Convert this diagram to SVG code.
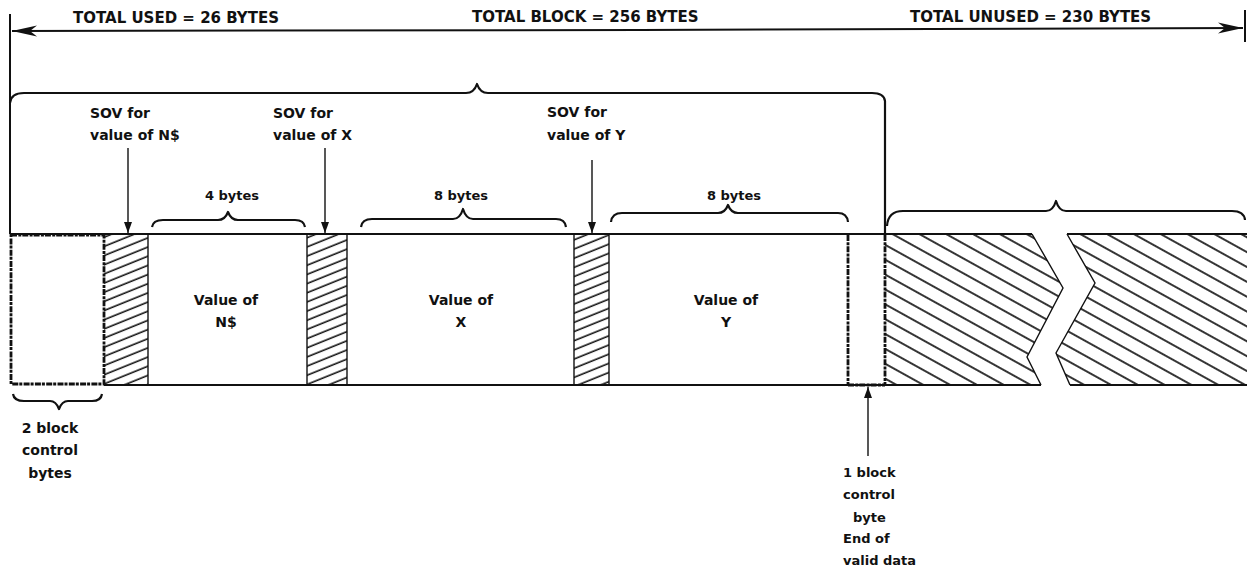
<svg xmlns="http://www.w3.org/2000/svg" width="1247" height="569" viewBox="0 0 1247 569">
<style>
text{font-family:"DejaVu Sans","Liberation Sans",sans-serif;font-weight:bold;fill:#111}
.t15{font-size:15px}
.t14{font-size:14px}
.t13{font-size:13px}
.ln{stroke:#111;stroke-width:2;fill:none}
.thin{stroke:#111;stroke-width:1.4;fill:none}
.br{stroke:#111;stroke-width:2.2;fill:none;stroke-linejoin:round}
.rough{stroke:#111;stroke-width:2.8;fill:none;stroke-dasharray:6 1.3 3 1}
.mid{text-anchor:middle}
</style>
<defs>
<pattern id="sov" patternUnits="userSpaceOnUse" width="8.5" height="8.5" patternTransform="rotate(-22)">
<line x1="0" y1="4" x2="8.5" y2="4" stroke="#111" stroke-width="1.6"/>
</pattern>
<pattern id="unused" patternUnits="userSpaceOnUse" width="13" height="13" patternTransform="rotate(29)">
<line x1="0" y1="6" x2="13" y2="6" stroke="#111" stroke-width="1.7"/>
</pattern>
<marker id="ah" markerWidth="12" markerHeight="10" refX="11" refY="5" orient="auto" markerUnits="userSpaceOnUse">
<path d="M0,1 L11,5 L0,9 Z" fill="#111"/>
</marker>
<marker id="bigah" markerWidth="26" markerHeight="12" refX="25" refY="6" orient="auto" markerUnits="userSpaceOnUse">
<path d="M0,0.5 L25,6 L0,11.5 L7,6 Z" fill="#111"/>
</marker>
</defs>
<rect width="1247" height="569" fill="#fff"/>

<g id="totals">
<line class="ln" x1="10" y1="14" x2="10" y2="234"/>
<line class="ln" x1="1245" y1="10" x2="1245" y2="42"/>
<text class="t15" x="73" y="23">TOTAL USED = 26 BYTES</text>
<text class="t15" x="472" y="22">TOTAL BLOCK = 256 BYTES</text>
<text class="t15" x="910" y="22">TOTAL UNUSED = 230 BYTES</text>
</g>

<g id="connectors">
<line class="ln" x1="640" y1="30" x2="12" y2="31" marker-end="url(#bigah)"/>
<line class="ln" x1="640" y1="30" x2="1243" y2="28" marker-end="url(#bigah)"/>
<line class="thin" x1="128" y1="148" x2="128" y2="233" marker-end="url(#ah)"/>
<line class="thin" x1="325" y1="148" x2="325" y2="233" marker-end="url(#ah)"/>
<line class="thin" x1="592" y1="160" x2="592" y2="233" marker-end="url(#ah)"/>
<line class="thin" x1="868" y1="456" x2="868" y2="387" marker-end="url(#ah)"/>
</g>

<g id="braces">
<path class="br" d="M10,103 Q11,93 24,93 L466,93 Q474,93 477,84 Q480,93 488,93 L872,93 Q884,93 885,101 L885,234"/>
<path class="br" d="M152,227 Q153,220 163,220 L218,220 Q225,220 228,212 Q231,220 238,220 L295,220 Q304,220 305,227"/>
<path class="br" d="M361,227 Q362,219 372,219 L453,219 Q460,219 463,209 Q466,219 473,219 L556,219 Q565,219 566,227"/>
<path class="br" d="M611,222 Q612,213 622,213 L718,213 Q725,213 728,205 Q731,213 738,213 L838,213 Q847,213 848,222"/>
<path class="br" d="M887,226 Q888,211 903,211 L1046,211 Q1053,211 1056,201 Q1059,211 1066,211 L1232,211 Q1244,211 1245,220"/>
<path class="br" d="M13,394 Q14,401 24,401 L50,401 Q56,401 59,409 Q62,401 68,401 L92,401 Q101,401 102,394"/>
</g>

<g id="block">
<rect x="104" y="234" width="44" height="151" fill="url(#sov)"/>
<rect x="307" y="234" width="40" height="151" fill="url(#sov)"/>
<rect x="574" y="234" width="35" height="151" fill="url(#sov)"/>
<polygon points="885,234 1032,234 1063,288 1027,357 1041,385 885,385" fill="url(#unused)"/>
<polygon points="1067,234 1247,234 1247,385 1070,385 1056,353 1095,283" fill="url(#unused)"/>
<line class="ln" x1="10" y1="234" x2="1032" y2="234"/>
<line class="ln" x1="1067" y1="234" x2="1247" y2="234"/>
<line class="ln" x1="104" y1="385" x2="1041" y2="385"/>
<line class="ln" x1="1070" y1="385" x2="1247" y2="385"/>
<polyline class="thin" points="1032,234 1063,288 1027,357 1041,385"/>
<polyline class="thin" points="1067,234 1095,283 1056,353 1070,385"/>
<rect class="rough" x="11" y="235" width="93" height="149"/>
<line class="thin" x1="148" y1="234" x2="148" y2="385"/>
<line class="thin" x1="307" y1="234" x2="307" y2="385"/>
<line class="thin" x1="347" y1="234" x2="347" y2="385"/>
<line class="thin" x1="574" y1="234" x2="574" y2="385"/>
<line class="thin" x1="609" y1="234" x2="609" y2="385"/>
<line class="rough" x1="848" y1="235" x2="848" y2="385"/>
<line class="rough" x1="885" y1="235" x2="885" y2="385"/>
<line class="rough" x1="848" y1="385" x2="885" y2="385"/>
</g>

<g id="value-ns">
<text class="t14 mid" x="226" y="305">Value of</text>
<text class="t14 mid" x="226" y="327">N$</text>
</g>
<g id="value-x">
<text class="t14 mid" x="461" y="305">Value of</text>
<text class="t14 mid" x="461" y="327">X</text>
</g>
<g id="value-y">
<text class="t14 mid" x="726" y="305">Value of</text>
<text class="t14 mid" x="726" y="327">Y</text>
</g>

<g id="sov-ns">
<text class="t14" x="90" y="118">SOV for</text>
<text class="t14" x="90" y="140">value of N$</text>
</g>
<g id="sov-x">
<text class="t14" x="273" y="118">SOV for</text>
<text class="t14" x="273" y="140">value of X</text>
</g>
<g id="sov-y">
<text class="t14" x="547" y="117">SOV for</text>
<text class="t14" x="547" y="140">value of Y</text>
</g>

<g id="sizes">
<text class="t13 mid" x="232" y="200">4 bytes</text>
<text class="t13 mid" x="461" y="200">8 bytes</text>
<text class="t13 mid" x="734" y="200">8 bytes</text>
</g>

<g id="ctrl-start">
<text class="t14 mid" x="50" y="433">2 block</text>
<text class="t14 mid" x="50" y="455">control</text>
<text class="t14 mid" x="50" y="478">bytes</text>
</g>

<g id="ctrl-end">
<text class="t13" x="843" y="477">1 block</text>
<text class="t13" x="843" y="499">control</text>
<text class="t13" x="853" y="522">byte</text>
<text class="t13" x="843" y="543">End of</text>
<text class="t13" x="843" y="565">valid data</text>
</g>
</svg>
